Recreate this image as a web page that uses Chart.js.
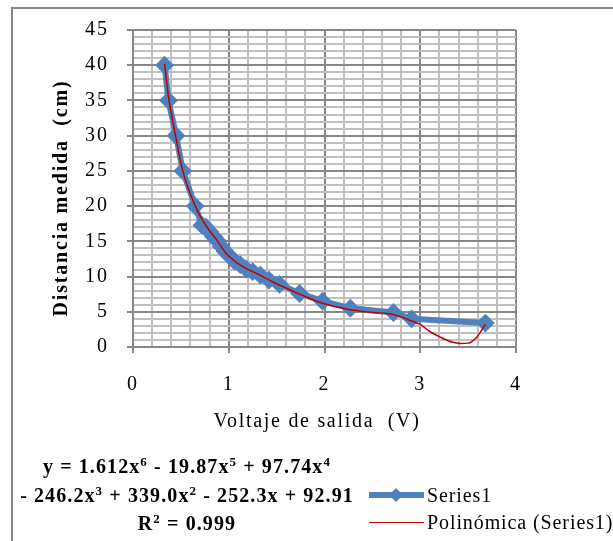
<!DOCTYPE html>
<html>
<head>
<meta charset="utf-8">
<script src="https://cdn.jsdelivr.net/npm/chart.js@4/dist/chart.umd.min.js"></script>
<style>
  html, body { margin:0; padding:0; background:#fff; }
  body { width:613px; height:541px; overflow:hidden; position:relative; font-family:"Liberation Serif","Times New Roman",serif; }
  #frame { position:absolute; left:11px; top:7px; width:800px; height:800px; border-top:2px solid #878787; border-left:2px solid #878787; }
  #c { position:absolute; left:0; top:0; }
  .eq { position:absolute; width:374px; left:0; text-align:center; font-weight:bold; font-size:20px; line-height:22px; color:#000; white-space:nowrap; letter-spacing:1.1px; }
  .eq sup { font-size:13px; vertical-align:7px; line-height:0; }
  .lgtext { position:absolute; left:427px; font-size:20px; line-height:22px; color:#000; white-space:nowrap; letter-spacing:0.9px; }
  .lgline { position:absolute; left:369px; width:55px; }
  .diamond { position:absolute; width:10px; height:10px; background:#4f81bd; transform:rotate(45deg); }
</style>
</head>
<body>
<div id="frame"></div>
<canvas id="c" width="613" height="541"></canvas>

<div class="eq" style="top:455px;">y = 1.612x<sup>6</sup> - 19.87x<sup>5</sup> + 97.74x<sup>4</sup></div>
<div class="eq" style="top:484px;">- 246.2x<sup>3</sup> + 339.0x<sup>2</sup> - 252.3x + 92.91</div>
<div class="eq" style="top:512px;">R<sup>2</sup> = 0.999</div>

<div class="lgline" style="top:492px;height:6px;background:#4f81bd;"></div>
<div class="diamond" style="left:391px;top:490px;"></div>
<div class="lgtext" style="top:484px;">Series1</div>
<div class="lgline" style="top:522px;height:1px;background:#c00000;"></div>
<div class="lgtext" style="top:511px;">Polinómica (Series1)</div>

<script>
const voltage  = [0.33, 0.37, 0.45, 0.52, 0.65, 0.72, 0.76, 0.80, 0.84, 0.88, 0.92, 0.96, 1.01, 1.06, 1.12, 1.18, 1.25, 1.33, 1.42, 1.53, 1.74, 1.98, 2.27, 2.72, 2.91, 3.68];
const distance = [40, 35, 30, 25, 20, 17.3, 17.0, 16.4, 15.7, 15.1, 14.3, 13.6, 12.9, 12.2, 11.7, 11.1, 10.7, 10.2, 9.5, 8.9, 7.6, 6.5, 5.5, 4.9, 4.0, 3.4];

// Polynomial trend line
const trendX = [0.33, 0.37, 0.45, 0.52, 0.65, 0.73, 0.80, 0.88, 0.96, 1.07, 1.19, 1.31, 1.45, 1.56, 1.74, 1.98, 2.27, 2.50, 2.72, 2.91, 3.00, 3.10, 3.21, 3.33, 3.42, 3.50, 3.59, 3.68];
const trendY = [40.2, 35.6, 29.6, 25.0, 20.0, 17.9, 16.5, 15.1, 13.5, 12.1, 11.1, 10.3, 9.3, 8.6, 7.5, 6.2, 5.3, 4.9, 4.6, 3.7, 3.2, 2.2, 1.4, 0.7, 0.5, 0.55, 1.4, 3.2];

const xTickLabels = ['0', '1', '2', '3', '4'];
const yTickLabels = ['0', '5', '10', '15', '20', '25', '30', '35', '40', '45'];

const seriesName = 'Series1';
const trendName = 'Polinómica (Series1)';
const xTitle = 'Voltaje de salida  (V)';
const yTitle = 'Distancia medida  (cm)';

const MAJOR = '#878787', MINOR = '#c0c0c0';
const isInt = v => Math.abs(v - Math.round(v)) < 1e-6;

const spacingPlugin = {
  id: 'spacing',
  beforeDraw(chart) { chart.ctx.letterSpacing = '2px'; }
};

const titlesPlugin = {
  id: 'axisTitles',
  afterDraw(chart) {
    const ctx = chart.ctx;
    ctx.save();
    ctx.letterSpacing = '1.7px';
    ctx.fillStyle = '#000';
    ctx.textAlign = 'center';
    ctx.textBaseline = 'middle';
    ctx.font = '20px "Liberation Serif"';
    ctx.fillText(xTitle, 317, 422);
    ctx.translate(62, 198);
    ctx.rotate(-Math.PI / 2);
    ctx.font = 'bold 20px "Liberation Serif"';
    ctx.letterSpacing = '1.8px';
    ctx.fillText(yTitle, 0, 0);
    ctx.restore();
  }
};

new Chart(document.getElementById('c'), {
  type: 'scatter',
  plugins: [spacingPlugin, titlesPlugin],
  data: {
    datasets: [
      {
        label: trendName,
        data: trendX.map((x, i) => ({x, y: trendY[i]})),
        showLine: true,
        borderColor: '#c00000',
        borderWidth: 1.5,
        pointRadius: 0,
        cubicInterpolationMode: 'monotone',
        order: 0
      },
      {
        label: seriesName,
        data: voltage.map((x, i) => ({x, y: distance[i]})),
        showLine: true,
        borderColor: '#4f81bd',
        backgroundColor: '#4f81bd',
        borderWidth: 6,
        tension: 0,
        pointStyle: 'rectRot',
        pointRadius: 8,
        pointBorderWidth: 2,
        pointBorderColor: '#4f81bd',
        pointBackgroundColor: '#4f81bd',
        order: 1
      }
    ]
  },
  options: {
    responsive: false,
    animation: false,
    devicePixelRatio: 1,
    layout: { padding: { left: 0, top: 23, right: 97, bottom: 94 } },
    plugins: { legend: { display: false }, tooltip: { enabled: false } },
    scales: {
      x: {
        type: 'linear', min: 0, max: 4,
        afterFit: s => { s.height = 100; },
        border: { display: true, color: MAJOR, width: 2 },
        grid: {
          color: c => isInt(c.tick.value) ? MAJOR : MINOR,
          lineWidth: 2,
          tickLength: 6,
          tickColor: c => isInt(c.tick.value) ? MAJOR : 'rgba(0,0,0,0)',
          tickWidth: 2
        },
        ticks: {
          stepSize: 0.2, autoSkip: false, maxRotation: 0, padding: 20,
          color: '#000',
          font: { family: 'Liberation Serif', size: 20 },
          callback: v => isInt(v) ? xTickLabels[Math.round(v)] : ''
        },
        title: { display: false, text: xTitle }
      },
      y: {
        type: 'linear', min: 0, max: 45,
        afterFit: s => { s.width = 133; },
        border: { display: true, color: MAJOR, width: 2 },
        grid: {
          color: c => (Math.round(c.tick.value) % 5 === 0) ? MAJOR : MINOR,
          lineWidth: 2,
          tickLength: 6,
          tickColor: c => (Math.round(c.tick.value) % 5 === 0) ? MAJOR : 'rgba(0,0,0,0)',
          tickWidth: 2
        },
        ticks: {
          stepSize: 1, autoSkip: false, padding: 18,
          color: '#000',
          font: { family: 'Liberation Serif', size: 20 },
          callback: v => (Math.round(v) % 5 === 0) ? yTickLabels[Math.round(v) / 5] : ''
        },
        title: { display: false, text: yTitle }
      }
    }
  }
});
</script>
</body>
</html>
